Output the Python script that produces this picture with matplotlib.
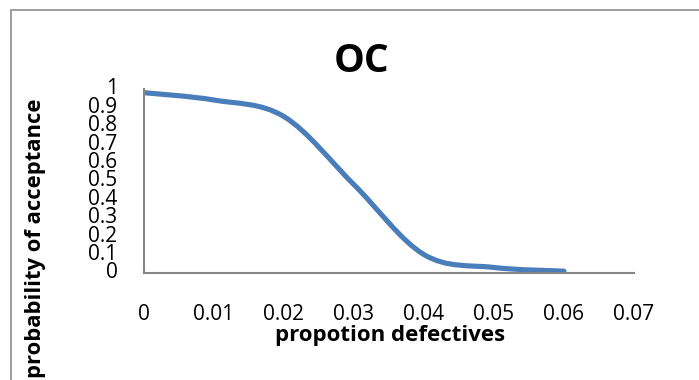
import matplotlib
matplotlib.use("Agg")
import matplotlib.pyplot as plt
import numpy as np
from matplotlib.path import Path
from matplotlib.patches import PathPatch, Rectangle

# OC curve data
proportion_defective = [0.0, 0.01, 0.02, 0.03, 0.04, 0.05, 0.06]
prob_acceptance = [0.98, 0.94, 0.85, 0.48, 0.10, 0.03, 0.01]

x_ticks = [0, 0.01, 0.02, 0.03, 0.04, 0.05, 0.06, 0.07]
x_tick_labels = ["0", "0.01", "0.02", "0.03", "0.04", "0.05", "0.06", "0.07"]
y_ticks = [0, 0.1, 0.2, 0.3, 0.4, 0.5, 0.6, 0.7, 0.8, 0.9, 1.0]
y_tick_labels = ["0", "0.1", "0.2", "0.3", "0.4", "0.5", "0.6", "0.7", "0.8", "0.9", "1"]

LINE_COLOR = "#4A7EBB"
AXIS_GRAY = "#868686"
FONT = "Open Sans"


def smooth_path(xs, ys):
    """Excel-like 'smoothed line': Catmull-Rom segments as cubic Beziers."""
    pts = np.column_stack([xs, ys])
    n = len(pts)
    verts = [pts[0]]
    codes = [Path.MOVETO]
    for i in range(n - 1):
        p0 = pts[i - 1] if i > 0 else pts[i]
        p1 = pts[i]
        p2 = pts[i + 1]
        p3 = pts[i + 2] if i + 2 < n else pts[i + 1]
        c1 = p1 + (p2 - p0) / 6.0
        c2 = p2 - (p3 - p1) / 6.0
        verts += [c1, c2, p2]
        codes += [Path.CURVE4] * 3
    return Path(verts, codes)


fig = plt.figure(figsize=(6.99, 3.80), dpi=100)
ax = fig.add_axes([0.206, 0.2816, 0.701, 0.4842])

# outer chart border (runs off the right/bottom of the crop)
fig.patches.append(Rectangle((11 / 699, -0.1), 1.2, 1 - 10 / 380 + 0.1,
                             transform=fig.transFigure, fill=False,
                             edgecolor="#8c8c8c", linewidth=1.2))

curve = PathPatch(smooth_path(proportion_defective, prob_acceptance),
                  facecolor="none", edgecolor=LINE_COLOR, linewidth=3.7,
                  capstyle="round", joinstyle="round")
ax.add_patch(curve)

ax.set_xlim(0, 0.07)
ax.set_ylim(0, 1.0)
ax.set_xticks(x_ticks)
ax.set_xticklabels(x_tick_labels, fontname=FONT, fontsize=15)
ax.set_yticks(y_ticks)
ax.set_yticklabels(y_tick_labels, fontname=FONT, fontsize=15)
ax.tick_params(axis="x", length=0, pad=22)
ax.tick_params(axis="y", length=0, pad=19)
for lbl in ax.get_yticklabels():
    lbl.set_verticalalignment("center")

for side in ["top", "right"]:
    ax.spines[side].set_visible(False)
for side in ["left", "bottom"]:
    ax.spines[side].set_color(AXIS_GRAY)
    ax.spines[side].set_linewidth(1.5)

fig.text(362 / 699, 1 - 62 / 380, "OC", ha="center", va="center",
         fontname=FONT, fontweight="bold", fontsize=28)
fig.text(390 / 699, 1 - 336 / 380, "propotion defectives", ha="center",
         va="center", fontname=FONT, fontweight="bold", fontsize=16)
fig.text(36 / 699, 1 - 238 / 380, "probability of acceptance", ha="center",
         va="center", rotation=90, fontname=FONT, fontweight="bold",
         fontsize=15.8)

fig.savefig("out.png", dpi=100)
